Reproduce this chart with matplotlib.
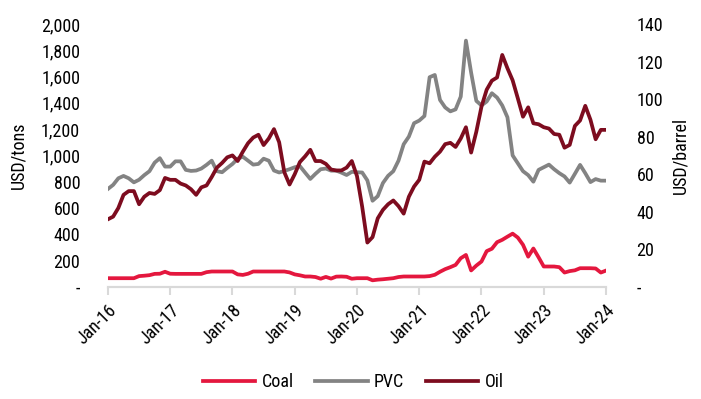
import numpy as np
import matplotlib
matplotlib.use("Agg")
from matplotlib import pyplot as plt

plt.rcParams['font.family'] = ['Roboto Condensed', 'DejaVu Sans']

# monthly prices, Jan-16 .. Jan-24
coal = [66, 66, 66, 66, 66, 66, 82, 85, 89, 99, 100, 115,
        100, 99, 99, 99, 99, 99, 99, 112, 117, 117, 117, 117,
        117, 95, 91, 100, 117, 117, 117, 117, 117, 117, 117, 110,
        95, 88, 79, 79, 75, 62, 76, 63, 78, 79, 77, 62,
        66, 66, 66, 50, 55, 58, 62, 66, 75, 79, 79, 79,
        79, 79, 82, 92, 115, 135, 150, 167, 218, 243, 125, 162,
        193, 272, 290, 340, 358, 382, 405, 375, 320, 230, 292, 225,
        155, 155, 155, 150, 109, 120, 126, 142, 142, 142, 140, 109,
        124]
pvc = [745, 776, 826, 844, 826, 795, 815, 850, 880, 945, 979, 915,
       915, 955, 955, 890, 882, 885, 900, 928, 960, 880, 872, 905,
       935, 975, 990, 960, 930, 935, 975, 960, 885, 870, 882, 895,
       910, 918, 869, 821, 860, 895, 900, 884, 884, 869, 851, 875,
       872, 870, 810, 655, 690, 790, 845, 880, 960, 1085, 1143, 1245,
       1265, 1300, 1595, 1612, 1422, 1365, 1335, 1350, 1447, 1873, 1630, 1415,
       1380, 1410, 1473, 1440, 1380, 1290, 1000, 940, 880, 850, 800, 890,
       910, 930, 895, 865, 840, 793, 860, 928, 865, 797, 820, 808,
       808]
oil = [36, 37.4, 42, 49, 51, 51, 44, 48, 50, 49.5, 51.5, 58,
       57, 57, 55, 54, 52, 49, 53, 54, 58.5, 63.5, 66, 69,
       70, 67, 72, 76.5, 79.5, 81, 75.5, 79, 84, 77, 61, 54.5,
       60, 66.5, 69.5, 73, 67, 67, 65.5, 62.5, 62, 62, 63.5, 67,
       59, 42.7, 23.6, 26.5, 36.5, 41, 44, 46, 43, 39, 48, 53.4,
       57, 66.7, 65.8, 69.3, 72, 76, 76.7, 74.5, 79, 85, 71.5, 82.6,
       96, 105, 109.8, 111.5, 123.5, 116.4, 110, 100.4, 90.6, 95.6, 87.1, 86.6,
       85, 84.3, 81.4, 81, 74.1, 75.6, 85.7, 88.6, 96.4, 89, 78.6, 83.6,
       83.6]
year_labels = ["Jan-16", "Jan-17", "Jan-18", "Jan-19", "Jan-20",
               "Jan-21", "Jan-22", "Jan-23", "Jan-24"]

months = np.arange(len(coal))

fig = plt.figure(figsize=(7.01, 3.99), dpi=100)
ax = fig.add_axes([0.154, 0.281, 0.7105, 0.659])
ax2 = ax.twinx()

l1, = ax.plot(months, coal, color="#e4173e", lw=2.7, label="Coal")
l2, = ax.plot(months, pvc, color="#838383", lw=2.7, label="PVC")
l3, = ax2.plot(months, oil, color="#7d0c1f", lw=2.7, label="Oil")

ax.set_xlim(0, 96)
ax.set_ylim(0, 2000)
ax2.set_ylim(0, 140)

ax.set_xticks(np.arange(0, 97, 12))
ax.set_xticklabels(year_labels, rotation=45, ha="right", rotation_mode="anchor")
ax.set_yticks(np.arange(0, 2001, 200))
ax.set_yticklabels(["-"] + [f"{v:,}" for v in range(200, 2001, 200)])
ax2.set_yticks(np.arange(0, 141, 20))
ax2.set_yticklabels(["-"] + [str(v) for v in range(20, 141, 20)])

for a in (ax, ax2):
    for side in ("top", "left", "right"):
        a.spines[side].set_visible(False)
    a.spines["bottom"].set_color("#d9d9d9")
    a.spines["bottom"].set_linewidth(1.5)
ax.tick_params(axis="x", length=6, width=1.5, color="#d9d9d9", labelsize=13, pad=4)
ax.tick_params(axis="y", length=0, labelsize=13, pad=20)
ax2.tick_params(axis="y", length=0, labelsize=13, pad=22)

ax.set_ylabel("USD/tons", fontsize=13, labelpad=10)
ax2.set_ylabel("USD/barrel", fontsize=13, labelpad=6)

fig.legend(handles=[l1, l2, l3], loc="center", bbox_to_anchor=(0.504, 0.043),
           ncol=3, frameon=False, fontsize=13, handlelength=2.9,
           columnspacing=1.2, handletextpad=0.35)

fig.savefig("out.png", dpi=100)
